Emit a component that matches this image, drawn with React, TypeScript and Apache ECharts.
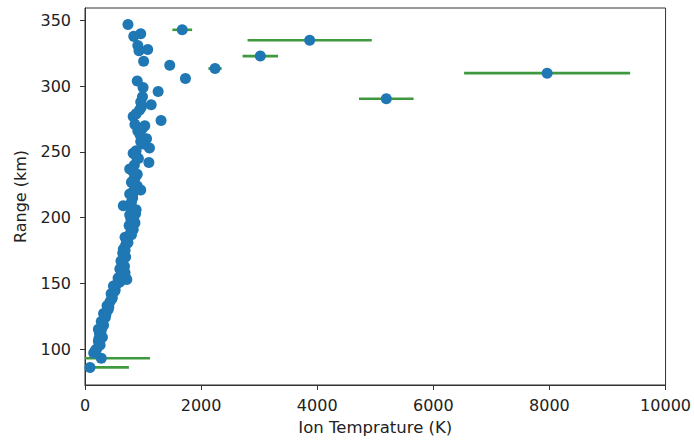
import React, { useEffect, useRef } from "react";
import * as echarts from "echarts";

// Ion temperature (K), range (km), horizontal error (K, 0 = none)
const temps = [
  86, 280, 150, 200, 260, 230, 300, 250, 230, 320, 280, 350, 320, 400, 380, 430, 470, 450, 520, 490,
  600, 570, 720, 690, 600, 650, 620, 700, 650, 660, 700, 720, 690, 780, 830, 760, 860, 790, 770, 860,
  880, 660, 800, 820, 770, 830, 960, 900, 800, 860, 900, 770, 850, 1100, 920, 830, 880, 1110, 1000, 1060,
  950, 910, 1030, 860, 830, 1310, 940, 970, 1140, 990, 1260, 1000, 900, 1730, 1460, 1010, 930, 1080, 910, 960,
  840, 740, 1675, 3870, 3020, 2240, 7960, 5190,
  180, 240, 280, 300, 360, 410, 460, 510, 560, 640, 680, 670, 690, 740, 800, 820, 840, 870, 780, 820,
  870, 840, 830, 880, 960, 990, 880, 960,
];
const ranges = [
  86, 93, 97, 100, 103, 106, 109, 112, 115, 118, 121, 124, 127, 130, 133, 136, 139, 142, 145, 148,
  151, 154, 153, 158, 161, 164, 167, 170, 173, 176, 179, 182, 185, 188, 191, 194, 196, 199, 202, 205,
  206, 209, 212, 215, 218, 220, 221, 224, 227, 230, 233, 237, 240, 242, 245, 249, 251, 253, 256, 260,
  263, 266, 270, 271, 277, 274, 282, 284, 286, 292, 296, 299, 304, 306, 316, 319, 327, 328, 331, 340,
  338, 347, 343, 335, 323, 313.5, 310, 290.5,
  99, 108, 114, 120, 126, 132, 138, 144, 150, 156, 163, 169, 175, 181, 187, 193, 198, 203, 208, 217,
  223, 229, 235, 247, 258, 268, 279, 288,
];
const errors = [
  670, 840, 0, 0, 0, 0, 0, 0, 0, 0, 0, 0, 0, 0, 0, 0, 0, 0, 0, 0,
  0, 0, 0, 0, 0, 0, 0, 0, 0, 0, 0, 0, 0, 0, 0, 0, 0, 0, 0, 0,
  0, 0, 0, 0, 0, 0, 0, 0, 0, 0, 0, 0, 0, 0, 0, 0, 0, 0, 0, 0,
  0, 0, 0, 0, 0, 0, 0, 0, 0, 0, 0, 0, 0, 0, 0, 0, 80, 0, 0, 0,
  0, 0, 170, 1070, 306, 115, 1430, 470,
  0, 0, 0, 0, 0, 0, 0, 0, 0, 0, 0, 0, 0, 0, 0, 0, 0, 0, 0, 0,
  0, 0, 0, 0, 0, 0, 0, 0,
];

const xTicks = [0, 2000, 4000, 6000, 8000, 10000];
const yTicks = [100, 150, 200, 250, 300, 350];

const TEXT = "#222";
const FONT = "DejaVu Sans";

export default function App() {
  const ref = useRef<HTMLDivElement>(null);
  useEffect(() => {
    if (!ref.current) return;
    const chart = echarts.init(ref.current, undefined, { renderer: "svg" });
    const points = temps.map((t, i) => [t, ranges[i]]);
    const bars = temps
      .map((t, i) => [t, ranges[i], errors[i]])
      .filter((d) => d[2] > 0);
    chart.setOption({
      animation: false,
      grid: {
        left: 85,
        right: 26,
        top: 8,
        bottom: 53,
        show: true,
        borderColor: "#333",
        borderWidth: 1,
      },
      xAxis: {
        type: "value",
        min: 0,
        max: 10000,
        interval: 2000,
        name: "Ion Temprature (K)",
        nameLocation: "middle",
        nameGap: 34,
        nameTextStyle: { color: TEXT, fontSize: 16.5, fontFamily: FONT },
        splitLine: { show: false },
        axisLine: { show: true, lineStyle: { color: "#333", width: 1 } },
        axisTick: { show: true, length: 5, lineStyle: { color: "#333" }, customValues: xTicks },
        axisLabel: {
          color: TEXT,
          fontSize: 16,
          fontFamily: FONT,
          margin: 12,
          customValues: xTicks,
          formatter: (v: number) => String(v),
        },
      },
      yAxis: {
        type: "value",
        min: 72.6,
        max: 359.6,
        name: "Range (km)",
        nameLocation: "middle",
        nameRotate: 90,
        nameGap: 57,
        nameTextStyle: { color: TEXT, fontSize: 16, fontFamily: FONT },
        splitLine: { show: false },
        axisLine: { show: true, lineStyle: { color: "#333", width: 1 } },
        axisTick: { show: true, length: 5, lineStyle: { color: "#333" }, customValues: yTicks },
        axisLabel: {
          color: TEXT,
          fontSize: 16,
          fontFamily: FONT,
          margin: 14,
          customValues: yTicks,
          formatter: (v: number) => String(v),
        },
      },
      series: [
        {
          type: "custom",
          clip: true,
          z: 1,
          data: bars,
          renderItem: (params: any, api: any) => {
            const x = api.value(0);
            const y = api.value(1);
            const e = api.value(2);
            const p1 = api.coord([x - e, y]);
            const p2 = api.coord([x + e, y]);
            return {
              type: "line",
              shape: { x1: p1[0], y1: p1[1], x2: p2[0], y2: p2[1] },
              style: { stroke: "#3f9a3f", lineWidth: 2.6 },
            };
          },
        },
        {
          type: "scatter",
          z: 2,
          data: points,
          symbol: "circle",
          symbolSize: 11,
          itemStyle: { color: "#1f77b4", opacity: 1 },
        },
      ],
    });
    return () => chart.dispose();
  }, []);
  return <div ref={ref} style={{ width: 694, height: 441, position: "absolute", left: 0, top: 0 }} />;
}
